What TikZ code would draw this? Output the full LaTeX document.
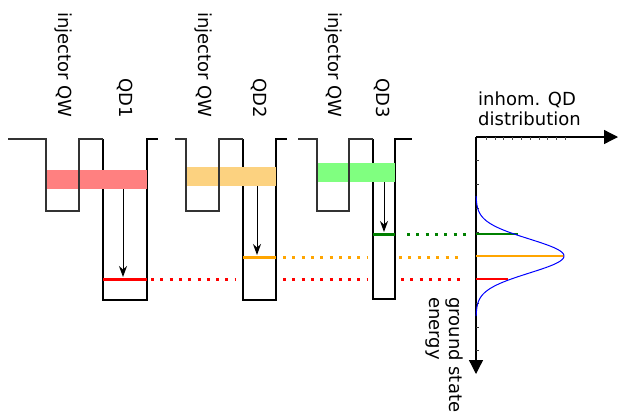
\documentclass[tikz,border=0pt]{standalone}
\usepackage{fontspec}
\setmainfont{DejaVu Sans}
\usetikzlibrary{arrows.meta}
\definecolor{bandred}{RGB}{255,128,128}
\definecolor{bandorange}{RGB}{252,210,128}
\definecolor{bandgreen}{RGB}{128,255,128}
\definecolor{lvlred}{RGB}{255,0,0}
\definecolor{lvlorange}{RGB}{255,165,0}
\definecolor{lvlgreen}{RGB}{0,128,0}
\tikzset{
  wall/.style={line width=1.1pt, black},
  injwall/.style={line width=1.1pt, black!80},
  level/.style={line width=3pt},
  dotline/.style={line width=3pt, dash pattern=on 3pt off 6.3pt},
  relax/.style={line width=1pt, -{Stealth[length=11pt,width=8pt,inset=3.5pt]}},
  axis/.style={line width=1.3pt, -{Triangle[length=14pt,width=14pt]}},
  lbl/.style={font=\fontsize{18}{20}\selectfont, inner sep=0pt},
  vlbl/.style={lbl, rotate=-90, anchor=east},
}
\begin{document}
\begin{tikzpicture}[x=1pt,y=-1pt]
\useasboundingbox (0,0) rectangle (618,416);

% ---------- structure 1 ----------
\draw[wall] (103,139) -- (103,300) -- (147,300) -- (147,139) -- (158,139);
\fill[bandred] (46,170) rectangle (147,189);
\draw[injwall] (8,139) -- (46,139) -- (46,211) -- (79,211) -- (79,139) -- (103,139);
\coordinate (qd1l) at (103,279);
\coordinate (qd1r) at (147,279);
\draw[level, lvlred] (qd1l) -- (qd1r);
\coordinate (a1s) at (123,189);
\coordinate (a1e) at (123,277);
\draw[relax] (a1s) -- (a1e);

% ---------- structure 2 ----------
\draw[wall] (243,139) -- (243,300) -- (276,300) -- (276,139) -- (287,139);
\fill[bandorange] (186,167) rectangle (276,186);
\draw[injwall] (175,139) -- (186,139) -- (186,211) -- (219,211) -- (219,139) -- (243,139);
\coordinate (qd2l) at (243,257);
\coordinate (qd2r) at (276,257);
\draw[level, lvlorange] (qd2l) -- (qd2r);
\coordinate (a2s) at (257,186);
\coordinate (a2e) at (257,255);
\draw[relax] (a2s) -- (a2e);

% ---------- structure 3 ----------
\draw[wall] (373,139) -- (373,299) -- (395,299) -- (395,139) -- (412,139);
\fill[bandgreen] (317,163) rectangle (395,182);
\draw[injwall] (298,139) -- (317,139) -- (317,211) -- (349,211) -- (349,139) -- (373,139);
\coordinate (qd3l) at (373,234);
\coordinate (qd3r) at (395,234);
\draw[level, lvlgreen] (qd3l) -- (qd3r);
\coordinate (a3s) at (384,182);
\coordinate (a3e) at (384,232);
\draw[relax] (a3s) -- (a3e);

% ---------- labels above the wells ----------
\node[vlbl] (inj1) at (63,118) {injector QW};
\node[vlbl] (qd1)  at (125,118) {QD1};
\node[vlbl] (inj2) at (203,118) {injector QW};
\node[vlbl] (qd2)  at (259,118) {QD2};
\node[vlbl] (inj3) at (333,118) {injector QW};
\node[vlbl] (qd3)  at (382,118) {QD3};

% ---------- axes of the distribution ----------
\coordinate (org) at (476,137);
\coordinate (xend) at (618,137);
\coordinate (yend) at (476,374);
\draw[axis] (org) -- (xend);
\draw[axis] (org) -- (yend);
\foreach \t in {486,494.8,503.6,512.4,521.2,530,538.8,547.6,556.4,565.2}
  \draw[line width=0.6pt, black!70] (\t,137) -- (\t,140);
\foreach \t in {160,184,208,232,255,279,303,327,350}
  \draw[line width=0.7pt, black!80] (476,\t) -- (479,\t);

% ---------- energy levels projected onto the axis ----------
\coordinate (gG) at (476,234);
\coordinate (gO) at (476,256);
\coordinate (gR) at (476,279);
\coordinate (cG) at (518,234);
\coordinate (cO) at (564,256);
\coordinate (cR) at (508,279);
\draw[line width=1.3pt, lvlgreen] (gG) -- (cG);
\draw[line width=1.2pt, lvlorange] (gO) -- (cO);
\draw[line width=1.2pt, lvlred] (gR) -- (cR);

% inhomogeneous distribution
\draw[line width=1pt, blue] plot[domain=196:316, samples=120, smooth]
  ({476+88*exp(-((\x-256)*(\x-256))/578)}, \x);

% dotted guides from each ground state to the axis
\coordinate (r1) at (151,279); \coordinate (r2) at (236,279);
\coordinate (r3) at (283,279); \coordinate (r4) at (368,279);
\coordinate (r5) at (401,279); \coordinate (r6) at (466,279);
\draw[dotline, lvlred] (r1) -- (r2);
\draw[dotline, lvlred] (r3) -- (r4);
\draw[dotline, lvlred] (r5) -- (r6);
\coordinate (o1) at (283,257); \coordinate (o2) at (368,257);
\coordinate (o3) at (399,257); \coordinate (o4) at (464,257);
\draw[dotline, lvlorange] (o1) -- (o2);
\draw[dotline, lvlorange] (o3) -- (o4);
\coordinate (g1) at (407,234); \coordinate (g2) at (466,234);
\draw[dotline, lvlgreen] (g1) -- (g2);

% ---------- axis labels ----------
\node[lbl, align=left, anchor=north west] (ylab) at (478,92) {inhom. QD\\distribution};
\node[lbl, align=left, rotate=-90, anchor=north west] (xlab) at (463,297) {ground state\\energy};
\end{tikzpicture}
\end{document}
